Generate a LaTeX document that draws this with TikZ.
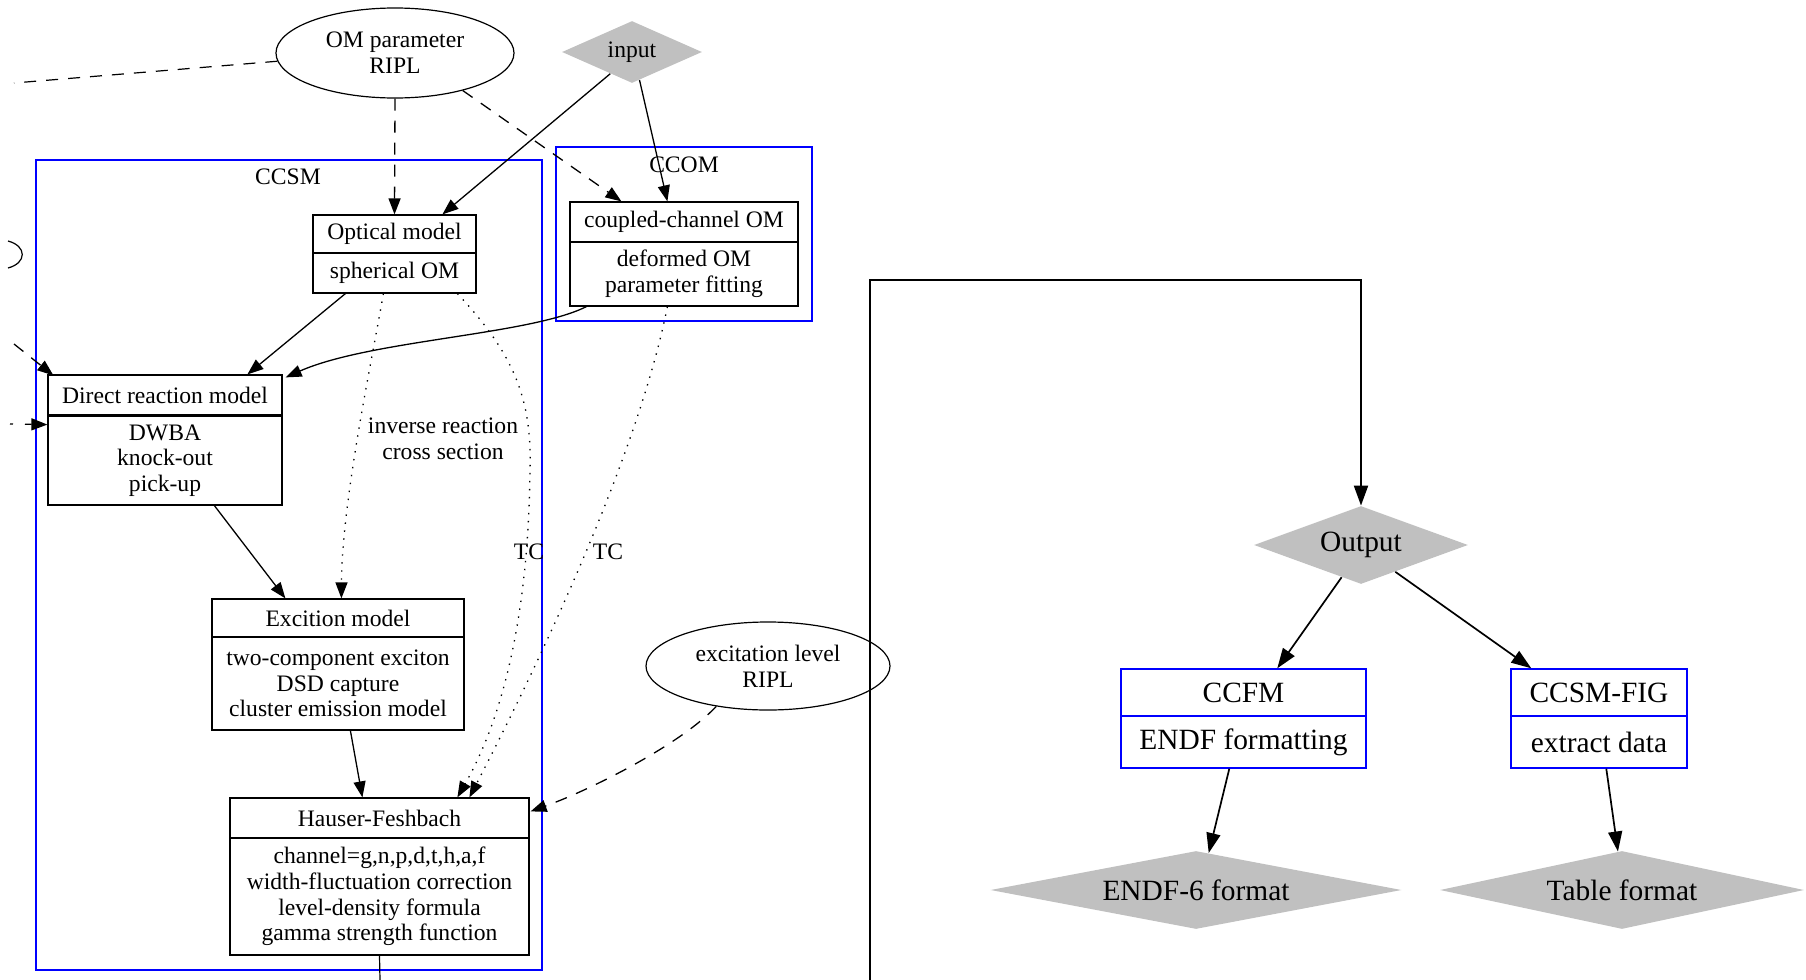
\documentclass[tikz,border=0pt]{standalone}
\usepackage{fontspec}
\setmainfont{Liberation Serif}
\usetikzlibrary{shapes.geometric,arrows.meta,calc}

\definecolor{gvgray}{RGB}{192,192,192}
\definecolor{gvblue}{RGB}{0,0,255}

\begin{document}
\begin{tikzpicture}[x=0.5pt,y=-0.5pt,
  lft/.style={font=\fontsize{11.8}{12.85}\selectfont},
  rgt/.style={font=\fontsize{14.7}{17}\selectfont},
  part/.style={draw, rectangle, inner sep=0pt, align=center, line width=0.6pt, lft},
  bpart/.style={draw=gvblue, rectangle, inner sep=0pt, align=center, line width=0.7pt, rgt},
  oval/.style={draw, ellipse, inner sep=0pt, align=center, line width=0.6pt, lft},
  gem/.style={diamond, fill=gvgray, inner sep=0pt},
  cluster/.style={draw=gvblue, line width=0.6pt},
  edge/.style={line width=0.65pt, -{Triangle[length=8pt,width=6pt]}},
  redge/.style={line width=0.85pt, -{Triangle[length=10pt,width=7pt]}},
  dashedge/.style={edge, dash pattern=on 6pt off 5pt},
  dotedge/.style={edge, dash pattern=on 0.7pt off 3.3pt},
]
\useasboundingbox (0,0) rectangle (1806,980);

% clusters
\draw[cluster] (36,160) rectangle (542,970);
\draw[cluster] (556,147) rectangle (812,321);
\node[lft] (ccsmlbl) at (288,177) {CCSM};
\node[lft] (ccomlbl) at (684,165) {CCOM};

% sources
\node[oval, minimum width=119pt, minimum height=45pt] (om) at (395,53) {OM parameter\\RIPL};
\node[gem, lft, aspect=2.26, minimum width=70pt, minimum height=31pt] (in) at (632,52) {input};
\node[oval, minimum width=122pt, minimum height=44pt] (exl) at (768,666) {excitation level\\RIPL};

% records of the CCSM and CCOM blocks
\node[part, minimum width=81.5pt, minimum height=19pt] (opt) at (394.5,234) {Optical model};
\node[part, minimum width=81.5pt, minimum height=20pt] (optb) at (394.5,273) {spherical OM};

\node[part, minimum width=114pt, minimum height=20pt] (cc) at (684,222) {coupled-channel OM};
\node[part, minimum width=114pt, minimum height=32pt] (ccb) at (684,274) {deformed OM\\parameter fitting};

\node[part, minimum width=117pt, minimum height=20pt] (dr) at (165,395) {Direct reaction model};
\node[part, minimum width=117pt, minimum height=44.5pt] (drb) at (165,460.5) {DWBA\\knock-out\\pick-up};

\node[part, minimum width=126pt, minimum height=19pt] (exc) at (338,618) {Excition model};
\node[part, minimum width=126pt, minimum height=46.5pt] (excb) at (338,683.5) {two-component exciton\\DSD capture\\cluster emission model};

\node[part, minimum width=149.5pt, minimum height=20pt] (hf) at (379.5,818) {Hauser-Feshbach};
\node[part, minimum width=149.5pt, minimum height=58.5pt] (hfb) at (379.5,896.5) {channel=g,n,p,d,t,h,a,f\\width-fluctuation correction\\level-density formula\\gamma strength function};

% output side
\node[gem, rgt, aspect=2.74, minimum width=107pt, minimum height=39pt] (out) at (1361,545) {Output};
\node[bpart, minimum width=122.5pt, minimum height=23.5pt] (ccfm) at (1243.5,692.5) {CCFM};
\node[bpart, minimum width=122.5pt, minimum height=26pt] (ccfmb) at (1243.5,742) {ENDF formatting};
\node[bpart, minimum width=88pt, minimum height=23.5pt] (fig) at (1599,692.5) {CCSM-FIG};
\node[bpart, minimum width=88pt, minimum height=26pt] (figb) at (1599,742) {extract data};
\node[gem, rgt, aspect=5.27, minimum width=205.5pt, minimum height=39pt] (endf) at (1196,890) {ENDF-6 format};
\node[gem, rgt, aspect=4.67, minimum width=182pt, minimum height=39pt] (tab) at (1622,890) {Table format};

% loose ends of connectors leaving the drawn area
\coordinate (offl) at (14,83);
\coordinate (offa) at (14,344);
\coordinate (offb) at (10,424);
\coordinate (offc) at (870,980);
\coordinate (offd) at (380,980);

% edges into the physics models
\draw[dashedge] (om.south) -- (opt.north);
\draw[dashedge] (om.-29) -- ($(cc.north west)+(52,0)$);
\draw[edge] (in.-135) -- ($(opt.north west)+(130,0)$);
\draw[edge] (in.-75) -- ($(cc.north west)+(98,0)$);
\draw[edge] ($(optb.south west)+(33,0)$) -- ($(dr.north west)+(200,0)$);
\draw[edge] ($(ccb.south west)+(17,0)$) .. controls (530,335) and (370,340) .. ($(dr.north east)+(3,3)$);
\draw[dotedge] ($(optb.south west)+(71,0)$) .. controls (372,360) and (342,500) .. ($(exc.north west)+(130,0)$);
\draw[dotedge] ($(optb.south west)+(145,0)$) .. controls (515,355) and (532,400) .. (530,470)
  .. controls (528,650) and (490,740) .. ($(hf.north west)+(228,0)$);
\draw[dotedge] ($(ccb.south west)+(98,0)$) .. controls (635,470) and (520,700) .. ($(hf.north west)+(240,0)$);
\draw[edge] ($(drb.south west)+(167,0)$) -- ($(exc.north west)+(74,0)$);
\draw[edge] ($(excb.south west)+(139,0)$) -- ($(hf.north west)+(133,0)$);
\draw[dashedge] (exl.-142) .. controls (680,745) and (590,790) .. ($(hf.north east)+(1,14)$);

% edge labels
\node[lft, align=center] (lblinv) at (443,439) {inverse reaction\\cross section};
\node[lft] (lbltc1) at (529,552) {TC};
\node[lft] (lbltc2) at (608,552) {TC};

% connectors cut at the left and bottom borders
\draw[line width=0.6pt] (8,241) .. controls (27,246) and (27,263) .. (8,268);
\draw[line width=0.6pt, dash pattern=on 6pt off 5pt] (om.184) -- (offl);
\draw[dashedge] (offa) -- ($(dr.north west)+(6,1)$);
\draw[edge, dash pattern=on 1.5pt off 6pt on 20pt] (offb) -- ($(dr.south west)+(0,9)$);
\draw[line width=0.6pt] (hfb.south) -- (offd);
\draw[line width=1pt, -{Triangle[length=10pt,width=7pt]}] (offc) -- ++(0,-700) -| (out.north);

% output branches
\draw[redge] (out.-121) -- ($(ccfm.north west)+(157,0)$);
\draw[redge] (out.-38) -- ($(fig.north west)+(21,0)$);
\draw[redge] ($(ccfmb.south west)+(109,0)$) -- (endf.71);
\draw[redge] ($(figb.south west)+(96,0)$) -- (tab.96);
\end{tikzpicture}
\end{document}
